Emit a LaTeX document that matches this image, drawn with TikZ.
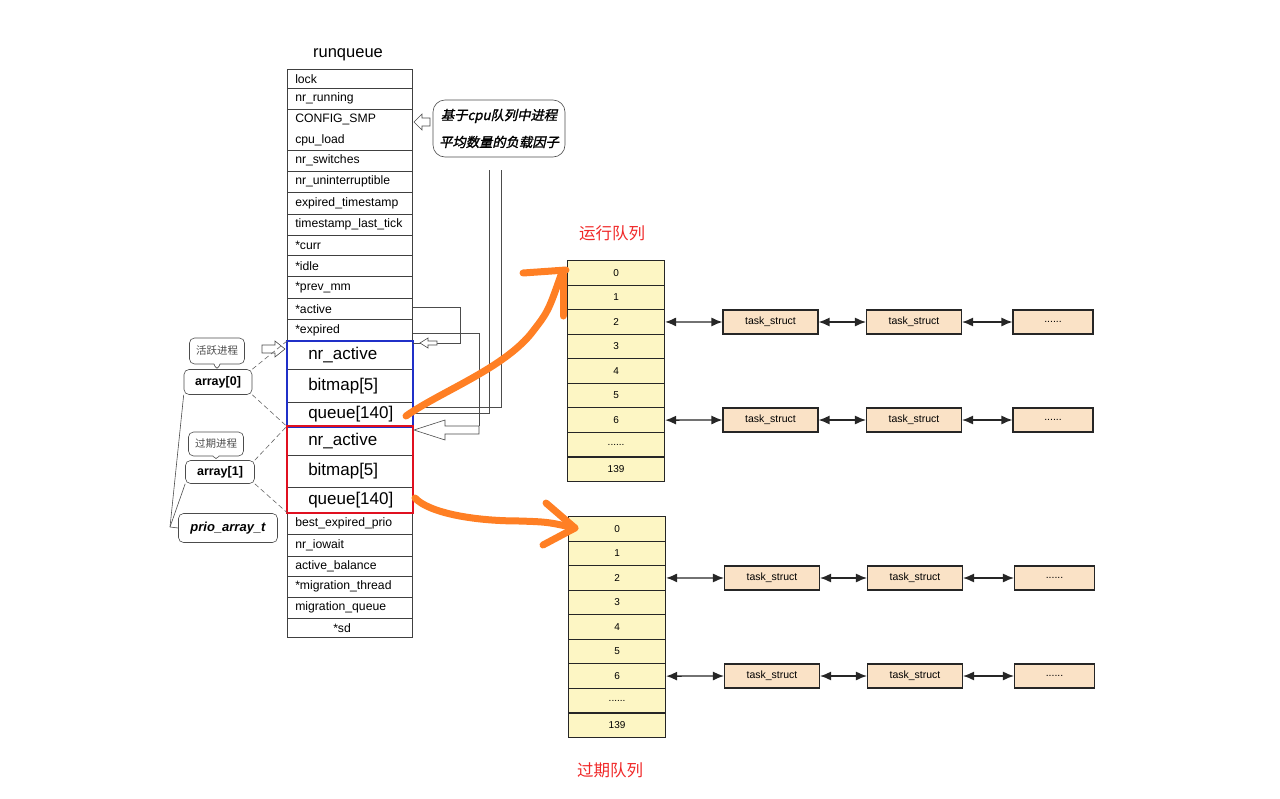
\documentclass[tikz,border=0pt]{standalone}
\usepackage{fontspec}
\setmainfont{Liberation Sans}
\newfontfamily\cjk{Noto Sans CJK SC}
\newfontfamily\cjkbi{Noto Sans CJK SC}[FakeSlant=0.22,FakeBold=1.5]
\usetikzlibrary{arrows.meta,shapes.callouts}
\definecolor{cellyellow}{HTML}{FDF6C4}
\definecolor{peach}{HTML}{FAE2C6}
\definecolor{hand}{HTML}{FF7F24}
\definecolor{lblred}{HTML}{F02828}
\definecolor{bluebox}{HTML}{2030C8}
\definecolor{redbox}{HTML}{E01020}
\newcommand\sixdots{......}
\tikzset{
  rq/.style={draw=black!75, line width=0.5pt, anchor=north west, minimum width=125pt,
    text width=109pt, inner xsep=8pt, inner ysep=0pt, align=left,
    font=\fontsize{12.2}{21}\selectfont},
  rqbig/.style={rq, font=\fontsize{17}{19}\selectfont},
  cell/.style={draw=black!85, line width=1.1pt, fill=cellyellow, anchor=north west,
    minimum width=97pt, minimum height=24.55pt, inner sep=0pt, font=\fontsize{10}{12}\selectfont},
  task/.style={draw=black!85, line width=1.1pt, fill=peach, minimum width=95pt,
    minimum height=24pt, inner sep=0pt, font=\fontsize{10.5}{12}\selectfont},
  dots/.style={task, minimum width=80pt},
  dl/.style={{Latex[length=11pt,width=9pt]}-{Latex[length=11pt,width=9pt]}, line width=1.3pt, draw=black!85},
  conn/.style={draw=black!70, line width=0.6pt},
  hol/.style={draw=black!70, line width=0.6pt, fill=white},
  handline/.style={draw=hand, line width=7pt, line cap=round, line join=round},
  tag/.style={draw=black!70, line width=0.6pt, rounded corners=5pt, fill=white, inner sep=2pt},
  bub/.style={rectangle callout, draw=black!70, line width=0.6pt, rounded corners=5pt,
    callout pointer width=6pt, font=\cjk\fontsize{10.5}{12}\selectfont, text=black!70},
  dsh/.style={draw=black!60, line width=0.6pt, dash pattern=on 5pt off 3pt},
}
\begin{document}
\begin{tikzpicture}[x=1pt,y=-1pt]
\useasboundingbox (0,0) rectangle (1280,798);

% ---------- runqueue ----------
\node[font=\fontsize{16.5}{18}\selectfont] (title) at (348,55) {runqueue};
\node[rq, minimum height=19pt] (r1) at (287,69) {lock};
\node[rq, minimum height=21pt] (r2) at (287,88) {nr\_running};
\node[rq, minimum height=41pt] (r3) at (287,109) {CONFIG\_SMP\\cpu\_load};
\node[rq, minimum height=21pt] (r4) at (287,150) {nr\_switches};
\node[rq, minimum height=21pt] (r5) at (287,171) {nr\_uninterruptible};
\node[rq, minimum height=22pt] (r6) at (287,192) {expired\_timestamp};
\node[rq, minimum height=21pt] (r7) at (287,214) {timestamp\_last\_tick};
\node[rq, minimum height=20pt] (r8) at (287,235) {*curr};
\node[rq, minimum height=21pt] (r9) at (287,255) {*idle};
\node[rq, minimum height=22pt] (r10) at (287,276) {*prev\_mm};
\node[rq, minimum height=21pt] (r11) at (287,298) {*active};
\node[rq, minimum height=22pt] (r12) at (287,319) {*expired};
\node[rqbig, minimum height=28pt] (r13) at (287,341) {\hspace*{13pt}nr\_active};
\node[rqbig, minimum height=33pt] (r14) at (287,369) {\hspace*{13pt}bitmap[5]};
\node[rqbig, minimum height=24pt] (r15) at (287,402) {\hspace*{13pt}queue[140]};
\node[rqbig, minimum height=29pt] (r16) at (287,426) {\hspace*{13pt}nr\_active};
\node[rqbig, minimum height=32pt] (r17) at (287,455) {\hspace*{13pt}bitmap[5]};
\node[rqbig, minimum height=25pt] (r18) at (287,487) {\hspace*{13pt}queue[140]};
\node[rq, minimum height=22pt] (r19) at (287,512) {best\_expired\_prio};
\node[rq, minimum height=22pt] (r20) at (287,534) {nr\_iowait};
\node[rq, minimum height=20pt] (r21) at (287,556) {active\_balance};
\node[rq, minimum height=21pt] (r22) at (287,576) {*migration\_thread};
\node[rq, minimum height=21pt] (r23) at (287,597) {migration\_queue};
\node[rq, minimum height=19pt] (r24) at (287,618) {\hspace*{38pt}*sd};
\draw[bluebox, line width=2pt] (r13.north west) rectangle (r15.south east);
\draw[redbox, line width=2pt] (r16.north west) rectangle (r18.south east);

% ---------- load-factor bubble ----------
\node[draw=black!70, line width=0.6pt, rounded corners=12pt, minimum width=132pt, minimum height=57pt,
  align=center, font=\cjkbi\fontsize{13.3}{27}\selectfont] (load) at (499,128.5)
  {基于cpu队列中进程\\平均数量的负载因子};
\draw[hol] (414,122) -- (422,114) -- (422,118) -- (430,118) -- (430,126) -- (422,126) -- (422,130) -- cycle;

% connectors on the right of runqueue
\coordinate (v1top) at (489,170);
\coordinate (v2top) at (501,170);
\coordinate (v1bot) at (489,413);
\coordinate (v2bot) at (501,407);
\draw[conn] (v1top) -- (v1bot) -- (r15.east |- v1bot);
\draw[conn] (v2top) -- (v2bot) -- (r15.east |- v2bot);
\coordinate (actc) at (460,307);
\draw[conn] (r11.east |- actc) -- (actc) -- (460,343) -- (r13.east |- 0,343);
\draw[hol] (420,343) -- (428,338) -- (428,341) -- (437,341) -- (437,345) -- (428,345) -- (428,348) -- cycle;
\coordinate (expc) at (479,333);
\draw[conn] (r12.east |- expc) -- (expc) -- (479,426);
\draw[hol] (414,430) -- (445,420) -- (445,426) -- (479,426) -- (479,434) -- (445,434) -- (445,440) -- cycle;

% ---------- left annotations ----------
\node[bub, minimum width=55pt, minimum height=26pt, callout absolute pointer={(217,371)}] (b1) at (217,351) {活跃进程};
\node[tag, minimum width=68pt, minimum height=25pt, font=\bfseries\fontsize{12.5}{14}\selectfont] (arr0) at (218,382) {array[0]};
\node[bub, minimum width=55pt, minimum height=24pt, callout absolute pointer={(216,461)}] (b2) at (216,444) {过期进程};
\node[tag, minimum width=69pt, minimum height=23pt, font=\bfseries\fontsize{12.5}{14}\selectfont] (arr1) at (220,472) {array[1]};
\node[tag, minimum width=99pt, minimum height=29pt, font=\bfseries\itshape\fontsize{13}{15}\selectfont] (prio) at (228,528) {prio\_array\_t};
\draw[hol] (285,349) -- (275,341) -- (275,345) -- (262,345) -- (262,353) -- (275,353) -- (275,357) -- cycle;
\draw[dsh] (arr0.north east) -- (r13.north west);
\draw[dsh] (arr0.south east) -- (r15.south west);
\draw[dsh] (arr1.north east) -- (r16.north west);
\draw[dsh] (arr1.south east) -- (r18.south west);
\coordinate (join) at (170,527);
\draw[conn] (arr0.south west) -- (join);
\draw[conn] (arr1.south west) -- (join);
\draw[conn] (join) -- (prio.west);

% ---------- active queue array ----------
\node[font=\cjk\fontsize{16.5}{18}\selectfont, text=lblred] (lblrun) at (612,233) {运行队列};
\foreach \i/\t [count=\k from 0] in {0/0,1/1,2/2,3/3,4/4,5/5,6/6,7/\sixdots,8/139}{
  \node[cell] (a\i) at (567,{260+24.55*\k}) {\t};
}
\node[task] (ta1) at (770.5,322) {task\_struct};
\node[task] (ta2) at (914,322) {task\_struct};
\node[dots] (ta3) at (1053,322) {\sixdots};
\node[task] (tb1) at (770.5,420) {task\_struct};
\node[task] (tb2) at (914,420) {task\_struct};
\node[dots] (tb3) at (1053,420) {\sixdots};
\draw[dl] (a2.east) -- (ta1.west);
\draw[dl] (ta1.east) -- (ta2.west);
\draw[dl] (ta2.east) -- (ta3.west);
\draw[dl] (a6.east) -- (tb1.west);
\draw[dl] (tb1.east) -- (tb2.west);
\draw[dl] (tb2.east) -- (tb3.west);

% ---------- expired queue array ----------
\foreach \i/\t [count=\k from 0] in {0/0,1/1,2/2,3/3,4/4,5/5,6/6,7/\sixdots,8/139}{
  \node[cell] (e\i) at (568,{516+24.55*\k}) {\t};
}
\node[font=\cjk\fontsize{16.5}{18}\selectfont, text=lblred] (lblexp) at (610,770) {过期队列};
\node[task] (tc1) at (772,578) {task\_struct};
\node[task] (tc2) at (915,578) {task\_struct};
\node[dots] (tc3) at (1054.5,578) {\sixdots};
\node[task] (td1) at (772,676) {task\_struct};
\node[task] (td2) at (915,676) {task\_struct};
\node[dots] (td3) at (1054.5,676) {\sixdots};
\draw[dl] (e2.east) -- (tc1.west);
\draw[dl] (tc1.east) -- (tc2.west);
\draw[dl] (tc2.east) -- (tc3.west);
\draw[dl] (e6.east) -- (td1.west);
\draw[dl] (td1.east) -- (td2.west);
\draw[dl] (td2.east) -- (td3.west);

% ---------- hand-drawn orange arrows ----------
\coordinate (h1s) at (406,416);
\coordinate (h1e) at (561,275);
\draw[handline] (h1s) .. controls (440,392) and (500,370) .. (530,335) .. controls (548,312) .. (h1e);
\coordinate (h1a) at (523,273);
\coordinate (h1b) at (566,270);
\coordinate (h1c) at (563,274);
\coordinate (h1d) at (563,316);
\draw[handline] (h1a) -- (h1b);
\draw[handline] (h1c) -- (h1d);
\coordinate (h2s) at (415,498);
\coordinate (h2e) at (575,528);
\draw[handline] (h2s) .. controls (428,512) and (470,521) .. (520,521) .. controls (548,522) .. (h2e);
\coordinate (h2a) at (546,503);
\coordinate (h2b) at (543,545);
\draw[handline] (h2a) -- (h2e) -- (h2b);
\end{tikzpicture}
\end{document}
